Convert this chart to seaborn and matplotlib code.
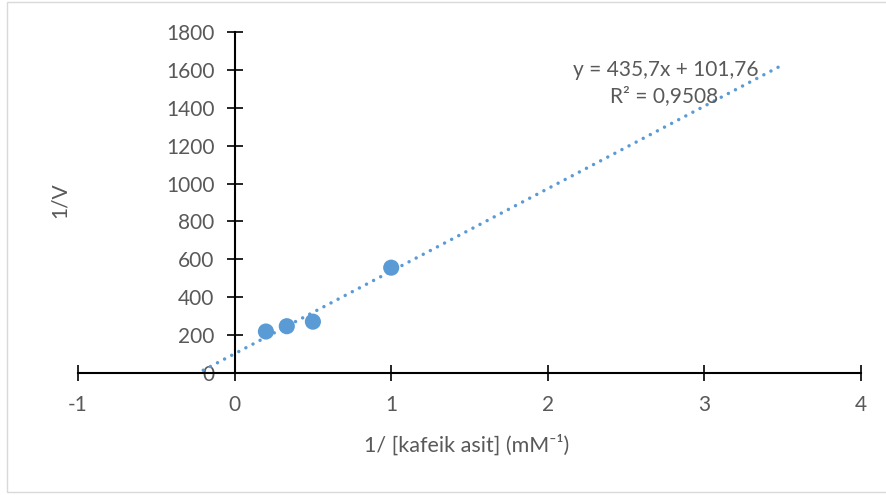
import numpy as np
import pandas as pd
import matplotlib
matplotlib.use("Agg")
import matplotlib.pyplot as plt
from matplotlib.patches import Rectangle
import seaborn as sns

# Lineweaver-Burk data: 1/[S] vs 1/V
inv_substrate = [0.2, 1 / 3, 0.5, 1.0]
inv_velocity = [219, 247, 271, 556]

# Linear trendline reported for the data
slope = 435.7
intercept = 101.76
r_squared = 0.9508
trend_x_range = [-0.2, 3.5]

x_ticks = [-1, 0, 1, 2, 3, 4]
y_ticks = [0, 200, 400, 600, 800, 1000, 1200, 1400, 1600, 1800]

sns.set_style("white")
plt.rcParams["font.family"] = ["Lato", "DejaVu Sans"]
plt.rcParams["axes.unicode_minus"] = False

BLUE = "#5B9BD5"
TEXT = "#595959"
FS = 15

fig = plt.figure(figsize=(8.86, 4.95), dpi=100)
ax = fig.add_axes([78 / 886, 1 - 373 / 495, 783 / 886, 341 / 495])

df = pd.DataFrame({"x": inv_substrate, "y": inv_velocity})

tx = np.array(trend_x_range)
ax.plot(tx, slope * tx + intercept, color=BLUE, lw=2.5,
        linestyle=(0, (0.01, 2.3)), dash_capstyle="round", zorder=2)

sns.scatterplot(data=df, x="x", y="y", ax=ax, s=135, color=BLUE,
                edgecolor="none", zorder=3, legend=False)

ax.set_xlim(-1, 4)
ax.set_ylim(0, 1800)
ax.set_xticks(x_ticks)
ax.set_yticks(y_ticks)

ax.spines["left"].set_position(("data", 0))
ax.spines["top"].set_visible(False)
ax.spines["right"].set_visible(False)
for side in ("left", "bottom"):
    ax.spines[side].set_color("black")
    ax.spines[side].set_linewidth(1.5)

ax.tick_params(axis="both", which="major", bottom=True, left=True,
               direction="inout", length=11, width=1.2,
               color="black", labelcolor=TEXT, labelsize=FS)
ax.tick_params(axis="x", pad=10)
ax.tick_params(axis="y", pad=9)

ax.set_xlabel("1/ [kafeik asit] (mM\u207b\u00b9)", fontsize=15.5, color=TEXT)
ax.set_ylabel("1/V", fontsize=FS, color=TEXT)
ax.xaxis.set_label_coords((467 - 78) / 783, (373 - 445) / 341)
ax.xaxis.label.set_va("center")
ax.yaxis.set_label_coords((60 - 78) / 783, (373 - 200) / 341)
ax.yaxis.label.set_va("center")

eq = f"y = {slope:.1f}x + {intercept:.2f}".replace(".", ",")
r2 = f"R² = {r_squared:.4f}".replace(".", ",")
ax.text(2.75, 1600, eq, ha="center", va="center", fontsize=FS, color=TEXT)
ax.text(2.74, 1462, r2, ha="center", va="center", fontsize=FS, color=TEXT)

fig.patches.append(Rectangle((7 / 886, 1 - 492 / 495), 1.0, 490 / 495,
                             transform=fig.transFigure, fill=False,
                             edgecolor="#d9d9d9", lw=1.0))

fig.savefig("out.png", dpi=100)
